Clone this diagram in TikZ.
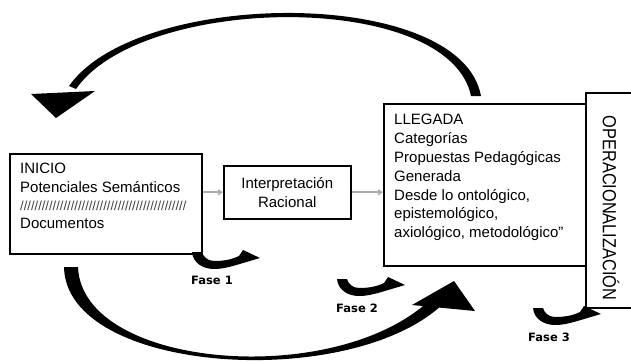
\documentclass[tikz,border=0pt]{standalone}
\usepackage{fontspec}
\setmainfont{Liberation Sans}
\newfontfamily\fasefont{DejaVu Sans}
\usetikzlibrary{arrows.meta}
\begin{document}
\begin{tikzpicture}[x=1pt,y=-1pt,
  framebox/.style={draw=black, line width=1.5pt, inner sep=0pt, anchor=north west},
  txt/.style={font=\fontsize{15}{19}\selectfont, inner sep=0pt, anchor=base west},
  garrow/.style={draw=gray!65, line width=1.6pt, -{Triangle[length=5pt,width=6pt]}},
  faselbl/.style={font=\fasefont\bfseries\fontsize{11.5}{13}\selectfont, inner sep=0pt},
  fasearrow/.pic={\fill[black] (0,0) .. controls (1,11) and (11,17) .. (22,17)
      .. controls (31,17) and (36,15) .. (41,14) -- (68,6) -- (51,-2) -- (47,4)
      .. controls (39,8) and (30,9) .. (22,9) .. controls (15,9) and (11,4) .. (10,0) -- cycle;}
]
\useasboundingbox (0,0) rectangle (631,361);

% boxes
\node[framebox, minimum width=192pt, minimum height=100pt] (inicio) at (9,153) {};
\node[framebox, minimum width=127pt, minimum height=53pt] (interp) at (223,165) {};
\node[framebox, minimum width=202pt, minimum height=162pt] (llegada) at (383,103) {};
\node[framebox, minimum width=70pt, minimum height=215pt] (oper) at (585,92) {};

% INICIO texts
\node[txt] (t1) at (20,173) {INICIO};
\node[txt] (t2) at (20,192) {Potenciales Semánticos};
\node[txt, font=\fontsize{13}{15}\selectfont, text=black!75] (t3) at (20,210) {//////////////////////////////////////////////};
\node[txt] (t4) at (20,228) {Documentos};

% Interpretacion text
\node[font=\fontsize{15}{19}\selectfont, align=center, inner sep=0pt] (ti) at (interp.center) {Interpretación\\Racional};

% LLEGADA text
\node[font=\fontsize{15}{18.8}\selectfont, align=left, inner sep=0pt, anchor=north west] (tl) at (394,114.3)
  {LLEGADA\\Categorías\\Propuestas Pedagógicas\\Generada\\Desde lo ontológico,\\epistemológico,\\axiológico, metodológico''};

% OPERACIONALIZACION
\node[rotate=-90, inner sep=0pt, font=\fontsize{19}{20}\selectfont] (to) at (611,208) {\scalebox{0.86}[1]{OPERACIONALIZACIÓN}};

% gray arrows
\draw[garrow] (interp.west -| inicio.east) -- (interp.west);
\draw[garrow] (interp.east) -- (interp.east -| llegada.west);

% top big arc
\fill[black] (481,96) .. controls (461,-14) and (138,-12) .. (69,86) -- (76,89)
   .. controls (142,-6) and (449,-10) .. (471,96) -- cycle;
\fill[black] (31,94) -- (56,118) -- (95,91) -- cycle;

% bottom big arc
\fill[black] (64,267) .. controls (66,374) and (350,392) .. (443,304) -- (434,296)
   .. controls (342,390) and (82,370) .. (78,267) -- cycle;
\fill[black] (412,305) -- (454,281) -- (475,311) -- cycle;

% fase arrows
\pic at (192,252) {fasearrow};
\pic at (337,279) {fasearrow};
\pic at (533,308) {fasearrow};
\node[faselbl] (f1) at (212,280) {Fase 1};
\node[faselbl] (f2) at (357,308) {Fase 2};
\node[faselbl] (f3) at (549,337) {Fase 3};
\end{tikzpicture}
\end{document}
